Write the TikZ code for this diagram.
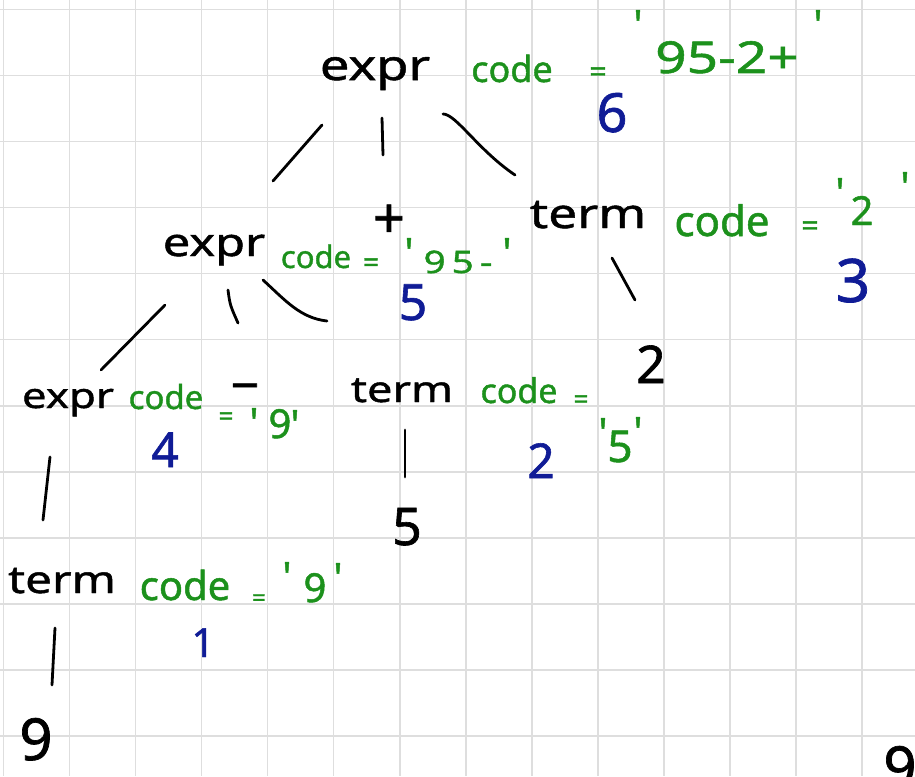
\documentclass[tikz,border=0pt]{standalone}
\usepackage{fontspec}
\setmainfont{Noto Sans}
\newfontfamily\hwplain[FakeBold=1.2]{Noto Sans}
\newfontfamily\hwwide[FakeStretch=1.25,FakeBold=1.2]{Noto Sans}
\definecolor{inkgreen}{RGB}{28,145,28}
\definecolor{inkblue}{RGB}{16,28,150}
\definecolor{gridgray}{RGB}{222,222,222}
\begin{document}
\begin{tikzpicture}[x=1pt,y=-1pt,
  gridline/.style={draw=gridgray, line width=1.4pt},
  stroke/.style={draw=black, line width=2.8pt, line cap=round, line join=round},
  sym/.style={inner sep=0pt, anchor=base, text=black, font={\hwwide\fontsize{#1}{#1}\selectfont}},
  lit/.style={inner sep=0pt, anchor=base, text=black, font={\hwplain\fontsize{#1}{#1}\selectfont}},
  attr/.style={inner sep=0pt, anchor=base, text=inkgreen, font={\hwplain\fontsize{#1}{#1}\selectfont}},
  attrw/.style={inner sep=0pt, anchor=base, text=inkgreen, font={\hwwide\fontsize{#1}{#1}\selectfont}},
  tick/.style={inner sep=0pt, anchor=north, text=inkgreen, font={\hwplain\fontsize{40}{40}\selectfont}},
  ordnum/.style={inner sep=0pt, anchor=base, text=inkblue, font={\hwplain\fontsize{#1}{#1}\selectfont}}
]
\useasboundingbox (0,0) rectangle (915,776);
\clip (0,0) rectangle (915,776);
\fill[white] (0,0) rectangle (915,776);

% squared paper
\foreach \i in {0,...,13} \draw[gridline] (3.5+66.05*\i,0) -- ++(0,776);
\foreach \j in {0,...,11} \draw[gridline] (0,9.5+66.05*\j) -- ++(915,0);

% ---- grammar symbols and leaves ----
\node[sym=42] (e1) at (375,80) {expr};
\node[sym=39] (e2) at (214,256) {expr};
\node[sym=35] (e3) at (68,408) {expr};
\node[sym=41] (t1) at (588,228) {term};
\node[sym=36] (t2) at (402,402) {term};
\node[sym=38] (t3) at (62,593) {term};
\node[lit=56] (plus) at (389,238) {+};
\node[lit=50] (minus) at (245,403) {−};
\node[lit=52] (two) at (651,383) {2};
\node[lit=52] (five) at (407,545) {5};
\node[lit=58] (nine) at (36,760) {9};
\node[lit=58] (nineb) at (900,788) {9};

% ---- tree edges ----
\coordinate (a1) at (322,125); \coordinate (a2) at (273,181);
\coordinate (b1) at (382,118); \coordinate (b2) at (383,155);
\coordinate (c1) at (443,114); \coordinate (c2) at (515,175);
\coordinate (d1) at (165,305); \coordinate (d2) at (101,370);
\coordinate (f1) at (228,290); \coordinate (f2) at (238,323);
\coordinate (g1) at (263,280); \coordinate (g2) at (327,321);
\coordinate (h1) at (612,258); \coordinate (h2) at (635,300);
\coordinate (k1) at (405,430); \coordinate (k2) at (405,477);
\coordinate (m1) at (50,457);  \coordinate (m2) at (43,520);
\coordinate (n1) at (55,628);  \coordinate (n2) at (52,685);
\draw[stroke] (a1) -- (a2);
\draw[stroke] (b1) -- (b2);
\draw[stroke] (c1) .. controls (456,114) and (478,150) .. (c2);
\draw[stroke] (d1) -- (d2);
\draw[stroke] (f1) .. controls (230,305) .. (f2);
\draw[stroke] (g1) .. controls (285,300) and (300,318) .. (g2);
\draw[stroke] (h1) -- (h2);
\draw[stroke] (k1) -- (k2);
\draw[stroke] (m1) -- (m2);
\draw[stroke] (n1) -- (n2);

% ---- synthesized attribute: code ----
\node[attr=36] (c6) at (512,82) {code};
\node[attr=30] (q6) at (598,82) {=};
\node[tick] (o6) at (638,10) {\textquotesingle};
\node[attrw=44] (v6) at (727,73) {95-2+};
\node[tick] (p6) at (818,10) {\textquotesingle};

\node[attr=42] (c3) at (722,236) {code};
\node[attr=30] (q3) at (810,236) {=};
\node[tick] (o3) at (840,178) {\textquotesingle};
\node[attr=40] (v3) at (862,225) {2};
\node[tick] (p3) at (905,172) {\textquotesingle};

\node[attr=31] (c5) at (316,268) {code};
\node[attr=28] (q5) at (371,272) {=};
\node[tick] (o5) at (409,238) {\textquotesingle};
\node[attrw=31] (v5) at (458,273) {9\hspace{6pt}5\hspace{6pt}-};
\node[tick] (p5) at (507,238) {\textquotesingle};

\node[attr=33] (c4) at (166,409) {code};
\node[attr=26] (q4) at (226,425) {=};
\node[tick] (o4) at (254,408) {\textquotesingle};
\node[attr=40] (v4) at (280,438) {9};
\node[tick] (p4) at (295,410) {\textquotesingle};

\node[attr=34] (c2) at (519,403) {code};
\node[attr=26] (q2) at (581,408) {=};
\node[tick] (o2) at (603,418) {\textquotesingle};
\node[attr=44] (v2) at (620,462) {5};
\node[tick] (p2) at (638,417) {\textquotesingle};

\node[attr=40] (c1) at (185,600) {code};
\node[attr=24] (q1) at (259,606) {=};
\node[tick] (o1) at (287,562) {\textquotesingle};
\node[attr=40] (v1) at (315,602) {9};
\node[tick] (p1) at (338,563) {\textquotesingle};

% ---- evaluation order ----
\node[ordnum=54] (n6) at (612,132) {6};
\node[ordnum=50] (n5) at (413,320) {5};
\node[ordnum=60] (n3) at (853,302) {3};
\node[ordnum=48] (n4) at (165,467) {4};
\node[ordnum=48] (n2) at (541,478) {2};
\node[ordnum=40] (n1) at (203,657) {1};
\end{tikzpicture}
\end{document}
